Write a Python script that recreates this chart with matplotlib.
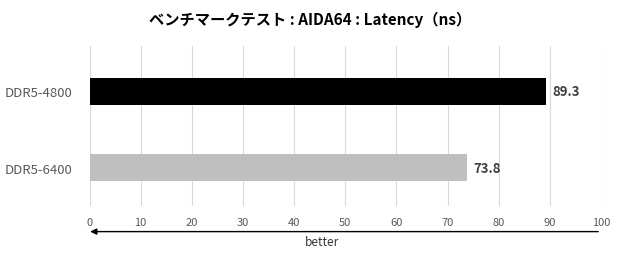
import matplotlib
matplotlib.use("Agg")
import matplotlib.pyplot as plt

plt.rcParams["font.family"] = ["Noto Sans CJK JP", "DejaVu Sans"]

categories = ["DDR5-4800", "DDR5-6400"]
values = [89.3, 73.8]
colors = ["#000000", "#bfbfbf"]
ticks = [0, 10, 20, 30, 40, 50, 60, 70, 80, 90, 100]

fig = plt.figure(figsize=(6.2, 2.55), dpi=100)
ax = fig.add_axes([89.5 / 620, 1 - 207 / 255, (601 - 89.5) / 620, 160 / 255])

ypos = list(range(len(categories)))
ax.barh(ypos, values, height=0.35, color=colors, zorder=3)
for y, v in zip(ypos, values):
    ax.text(v + 1.2, y, f"{v:.1f}", va="center", ha="left", fontsize=9.5,
            fontweight="bold", color="#404040")

ax.set_xlim(0, 100)
ax.set_ylim(1.5, -0.59)
ax.set_xticks(ticks)
ax.set_xticklabels([str(t) for t in ticks], fontsize=8, color="#595959")
ax.set_yticks(ypos)
ax.set_yticklabels(categories, fontsize=9.5, color="#595959")
ax.tick_params(axis="both", length=0)
ax.tick_params(axis="x", pad=8)
ax.tick_params(axis="y", pad=12)
ax.grid(axis="x", color="#d9d9d9", linewidth=0.8, zorder=0)
for s in ax.spines.values():
    s.set_visible(False)

# "better" arrow under the axis
ax.annotate("", xy=(-0.4, -0.16), xytext=(100, -0.16),
            xycoords=("data", "axes fraction"), textcoords=("data", "axes fraction"),
            arrowprops=dict(arrowstyle="-|>", color="black", lw=1.0, mutation_scale=9),
            annotation_clip=False)
ax.text(45.5, -0.225, "better", transform=ax.get_xaxis_transform(), ha="center",
        va="center", fontsize=8.5, color="#333333")

fig.text(0.5, 1 - 20 / 255, "ベンチマークテスト : AIDA64 : Latency（ns）", ha="center",
         va="center", fontsize=11, fontweight="bold", color="#000000")

fig.savefig("out.png", dpi=100)
